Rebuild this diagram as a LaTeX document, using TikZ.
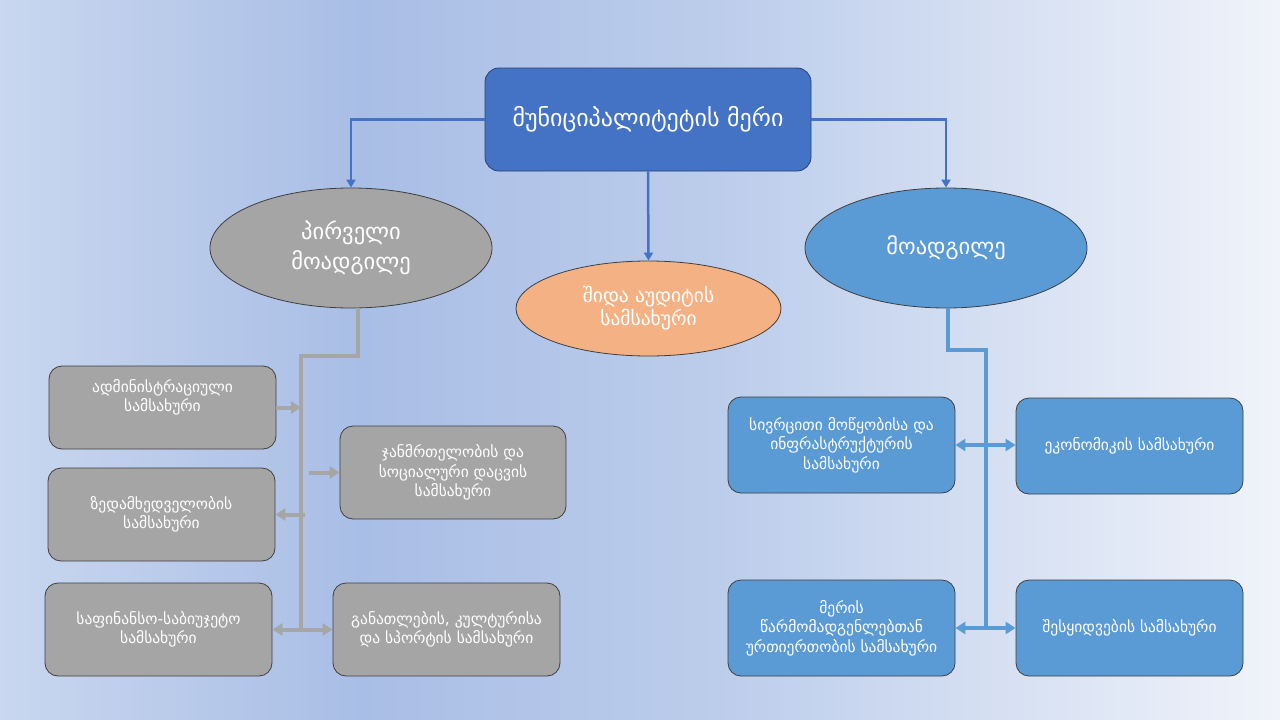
\documentclass[tikz,border=0pt]{standalone}
\usepackage{fontspec}
\setmainfont{DejaVu Sans}
\usetikzlibrary{shapes.geometric,arrows.meta}
\definecolor{bgL}{HTML}{C9D7EF}
\definecolor{bgM}{HTML}{A9BEE6}
\definecolor{bgN}{HTML}{BCCDEB}
\definecolor{bgR}{HTML}{F0F3FA}
\definecolor{topblue}{HTML}{4472C4}
\definecolor{topborder}{HTML}{2B4270}
\definecolor{grayfill}{HTML}{A5A5A5}
\definecolor{grayline}{HTML}{A6A6A6}
\definecolor{orangefill}{HTML}{F4B183}
\definecolor{midblue}{HTML}{5B9BD5}
\definecolor{darkedge}{HTML}{3F3F3F}
\tikzset{
  topbox/.style={draw=topborder, line width=0.8pt, fill=topblue, rounded corners=14pt,
    minimum width=326pt, minimum height=103pt, inner sep=0pt, text=white,
    font=\fontsize{24}{28}\selectfont},
  oval/.style={ellipse, draw=darkedge, line width=0.8pt, fill=#1, inner sep=0pt,
    text=white, align=center, font=\fontsize{22.5}{30}\selectfont},
  unitfont/.style={font=\fontsize{15.5}{19.5}\selectfont},
  unit/.style={draw=darkedge, line width=0.8pt, fill=#1, rounded corners=13pt,
    minimum width=227pt, minimum height=93pt, inner sep=0pt, text=white,
    align=center, unitfont},
  topconn/.style={draw=topblue, line width=2.5pt, -{Triangle[length=8pt,width=9pt]}},
  gline/.style={draw=grayline, line width=4pt},
  garrow/.style={draw=grayline, line width=4pt, -{Triangle[length=10pt,width=12pt]}},
  gdouble/.style={draw=grayline, line width=4pt, {Triangle[length=10pt,width=12pt]}-{Triangle[length=10pt,width=12pt]}},
  bline/.style={draw=midblue, line width=4pt},
  bdouble/.style={draw=midblue, line width=4pt, {Triangle[length=10pt,width=12pt]}-{Triangle[length=10pt,width=12pt]}},
}
\begin{document}
\begin{tikzpicture}[x=1pt,y=-1pt]
\useasboundingbox (0,0) rectangle (1280,720);
\shade[left color=bgL, right color=bgM] (0,0) rectangle (360,720);
\shade[left color=bgM, right color=bgN] (360,0) rectangle (720,720);
\shade[left color=bgN, right color=bgR] (720,0) rectangle (1280,720);

% top
\node[topbox] (top) at (648,119.5) {მუნიციპალიტეტის მერი};

% ellipses
\node[oval=grayfill, minimum width=282pt, minimum height=120pt] (L) at (351,248) {პირველი\\მოადგილე};
\node[oval=orangefill, minimum width=265pt, minimum height=95pt, font=\fontsize{19.5}{23}\selectfont] (C) at (648.5,308.5) {შიდა აუდიტის\\სამსახური};
\node[oval=midblue, minimum width=282pt, minimum height=120pt] (R) at (946,248) {მოადგილე};

% gray units
\node[unit=grayfill, minimum height=83pt, label={[text=white, align=center, unitfont, yshift=10pt]center:ადმინისტრაციული\\სამსახური}] (A) at (162.5,407.5) {};
\node[unit=grayfill] (B) at (161.5,514.5) {ზედამხედველობის\\სამსახური};
\node[unit=grayfill, minimum width=226pt] (Hc) at (453,472.5) {ჯანმრთელობის და\\სოციალური დაცვის\\სამსახური};
\node[unit=grayfill] (D) at (158.5,629.5) {საფინანსო-საბიუჯეტო\\სამსახური};
\node[unit=grayfill] (E) at (446.5,629.5) {განათლების, კულტურისა\\და სპორტის სამსახური};

% blue units
\node[unit=midblue, minimum height=96pt] (F) at (841.5,445) {სივრცითი მოწყობისა და\\ინფრასტრუქტურის\\სამსახური};
\node[unit=midblue, minimum height=96pt] (G) at (1129.5,446) {ეკონომიკის სამსახური};
\node[unit=midblue, minimum height=96pt] (H) at (841.5,628) {მერის\\წარმომადგენლებთან\\ურთიერთობის სამსახური};
\node[unit=midblue, minimum height=96pt] (I) at (1129.5,628) {შესყიდვების სამსახური};

% top connectors
\draw[topconn] (top.west) -| (L.north);
\draw[topconn] (top.east) -| (R.north);
\draw[topconn] (top.south) -- (C.north);

% gray tree
\coordinate (gt) at (301,356);
\coordinate (gb) at (301,629.5);
\draw[gline] ([xshift=7pt]L.south) |- (gt) -- (gb);
\draw[garrow] (A.east) -- (A.east -| gt);
\draw[garrow] ([xshift=8pt]Hc.west -| gt) -- (Hc.west);
\draw[garrow] ([xshift=4pt]B.east -| gt) -- (B.east);
\draw[gdouble] (D.east) -- (E.west);

% blue tree
\coordinate (bt) at (986,350);
\coordinate (bb) at (986,629);
\draw[bline] ([xshift=2pt]R.south) |- (bt) -- (bb);
\draw[bdouble] (F.east) -- (F.east -| G.west);
\draw[bdouble] (H.east) -- (I.west);
\end{tikzpicture}
\end{document}
